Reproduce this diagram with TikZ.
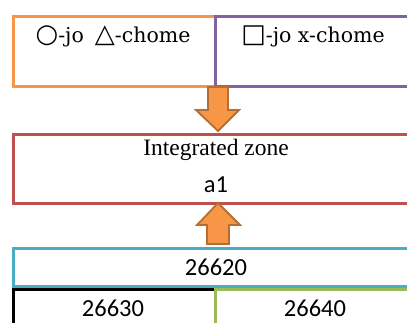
\documentclass[tikz,border=0pt]{standalone}
\usepackage{fontspec}
\usetikzlibrary{calc}
\setmainfont{DejaVu Serif}
\newfontfamily\symfont{DejaVu Sans}
\newfontfamily\timesfont{Liberation Serif}
\newfontfamily\califont{Carlito}
\definecolor{oorange}{HTML}{F79646}
\definecolor{oorangedark}{HTML}{B66D31}
\definecolor{opurple}{HTML}{8064A2}
\definecolor{ored}{HTML}{C0504D}
\definecolor{oblue}{HTML}{4BACC6}
\definecolor{ogreen}{HTML}{9BBB59}
\newcommand{\symb}[1]{{\symfont\fontsize{26}{28}\selectfont #1}}
\tikzset{
  box/.style={draw, line width=2.6pt, inner sep=0pt, anchor=north west},
  blockarrow/.style={fill=oorange, draw=oorangedark, line width=1.8pt, line join=miter},
  toptext/.style={font=\fontsize{20.5}{24}\selectfont, inner sep=0pt},
  numtext/.style={font=\califont\fontsize{24.5}{28}\selectfont, inner sep=0pt},
}
\begin{document}
\begin{tikzpicture}[x=1pt,y=-1pt]
\useasboundingbox (0,0) rectangle (407,322);
\clip (0,0) rectangle (407,322);
% top row
\node[box, draw=oorange, minimum width=202pt, minimum height=70pt] (orangebox) at (12,15) {};
\node[box, draw=opurple, minimum width=210pt, minimum height=70pt] (purplebox) at (214,15) {};
\node[toptext] (t1) at (113,36) {\symb{○}-jo\hspace{11pt}\symb{△}-chome};
\node[toptext] (t2) at (313,36) {\symb{□}-jo x-chome};
% integrated zone
\node[box, draw=ored, minimum width=412pt, minimum height=69pt] (redbox) at (12,133) {};
\node[font=\timesfont\fontsize{23.5}{26}\selectfont, inner sep=0pt] (iz) at (216,150) {Integrated zone};
\node[numtext] (a1) at (216,185) {a1};
% blue box
\node[box, draw=oblue, minimum width=412pt, minimum height=38pt] (bluebox) at (12,247) {};
\node[numtext] (n1) at (216,267) {26620};
% bottom row
\node[box, draw=black, minimum width=202pt, minimum height=60pt] (blackbox) at (12,288) {};
\node[box, draw=ogreen, minimum width=210pt, minimum height=60pt] (greenbox) at (214,288) {};
\node[numtext] (n2) at (113,308) {26630};
\node[numtext] (n3) at (315,308) {26640};
% block arrows
\coordinate (dtip) at (218,131);
\coordinate (utip) at (218,203);
\draw[blockarrow] ($(dtip)+(-10,-44)$) -- ++(20,0) -- ++(0,23) -- ++(11,0) -- (dtip) -- ($(dtip)+(-22,-21)$) -- ++(12,0) -- cycle;
\draw[blockarrow] ($(utip)+(-11,41)$) -- ++(22,0) -- ++(0,-19) -- ++(11,0) -- (utip) -- ($(utip)+(-21,22)$) -- ++(10,0) -- cycle;
\end{tikzpicture}
\end{document}
